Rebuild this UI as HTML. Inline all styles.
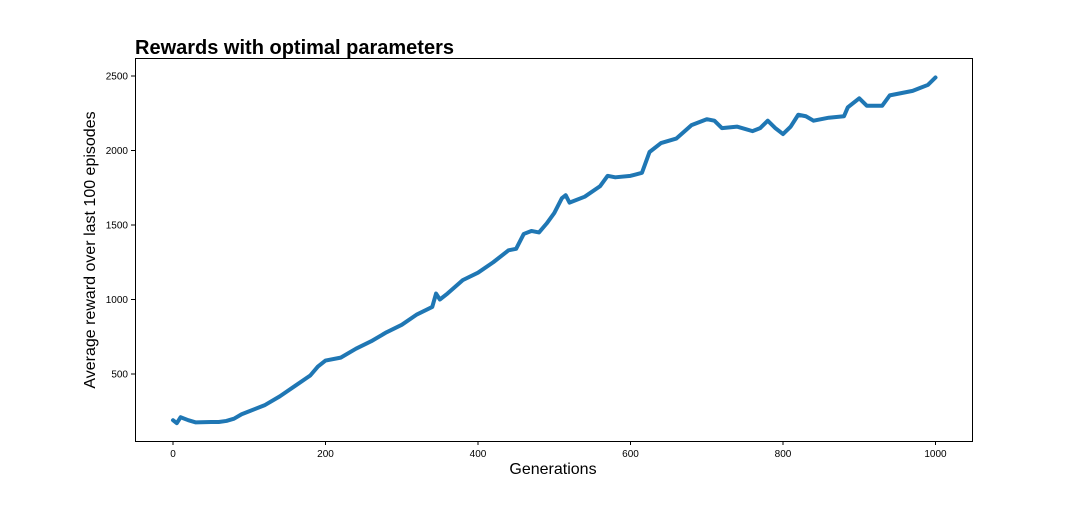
<!DOCTYPE html>
<html><head><meta charset="utf-8"><style>
body{margin:0;background:#fff;width:1080px;height:504px;overflow:hidden}
text{font-family:"Liberation Sans",sans-serif}
</style></head><body>
<svg width="1080" height="504" xmlns="http://www.w3.org/2000/svg">
<text x="135" y="54" font-size="20" font-weight="bold" fill="#000">Rewards with optimal parameters</text>
<g id="plot"></g>
<rect x="135.5" y="58.5" width="837" height="383" fill="none" stroke="#000" stroke-width="1"/>
<text x="553" y="474" font-size="16" text-anchor="middle">Generations</text>
<text transform="translate(95,250) rotate(-90)" font-size="16" text-anchor="middle">Average reward over last 100 episodes</text>
</svg>
<script>
const generations=[0,5,10,20,30,50,60,70,80,90,100,120,140,160,180,190,200,220,240,260,280,300,320,340,345,350,360,380,400,420,440,450,460,470,480,490,500,510,515,520,540,560,570,580,600,615,625,640,660,680,700,710,720,740,760,770,780,790,800,810,820,830,840,860,880,885,900,910,930,940,960,970,980,990,1000];
const rewards=[190,170,210,190,175,178,178,185,200,230,250,290,350,420,490,550,590,610,670,720,780,830,900,950,1040,1000,1040,1130,1180,1250,1330,1340,1440,1460,1450,1510,1580,1680,1700,1650,1690,1760,1830,1820,1830,1850,1990,2050,2080,2170,2210,2200,2150,2160,2130,2150,2200,2150,2110,2160,2240,2230,2200,2220,2230,2290,2350,2300,2300,2370,2390,2400,2420,2440,2490];
const xTicks=[0,200,400,600,800,1000];
const yTicks=[500,1000,1500,2000,2500];
const ns="http://www.w3.org/2000/svg";
const X=v=>173+v*0.7625;
const Y=v=>448.5-v*0.149;
const g=document.getElementById('plot');
function mk(t,a){const e=document.createElementNS(ns,t);for(const k in a)e.setAttribute(k,a[k]);g.appendChild(e);return e;}
xTicks.forEach(t=>{
 const l=mk('line',{x1:X(t),x2:X(t),y1:441,y2:445,stroke:'#000'});
 
 
 const tx=mk('text',{x:X(t),y:457,'font-size':10,'text-anchor':'middle'});tx.textContent=t;
 
 
});
yTicks.forEach(t=>{
 const l=mk('line',{x1:131,x2:135,y1:Y(t),y2:Y(t),stroke:'#000'});
 
 
 const tx=mk('text',{x:128,y:Y(t)+3.5,'font-size':10,'text-anchor':'end'});tx.textContent=t;
 
 
});
const pts=generations.map((gv,i)=>X(gv)+','+Y(rewards[i])).join(' ');
const pl=mk('polyline',{points:pts,fill:'none',stroke:'#1f77b4','stroke-width':4,'stroke-linejoin':'round','stroke-linecap':'round'});


</script>
</body></html>
